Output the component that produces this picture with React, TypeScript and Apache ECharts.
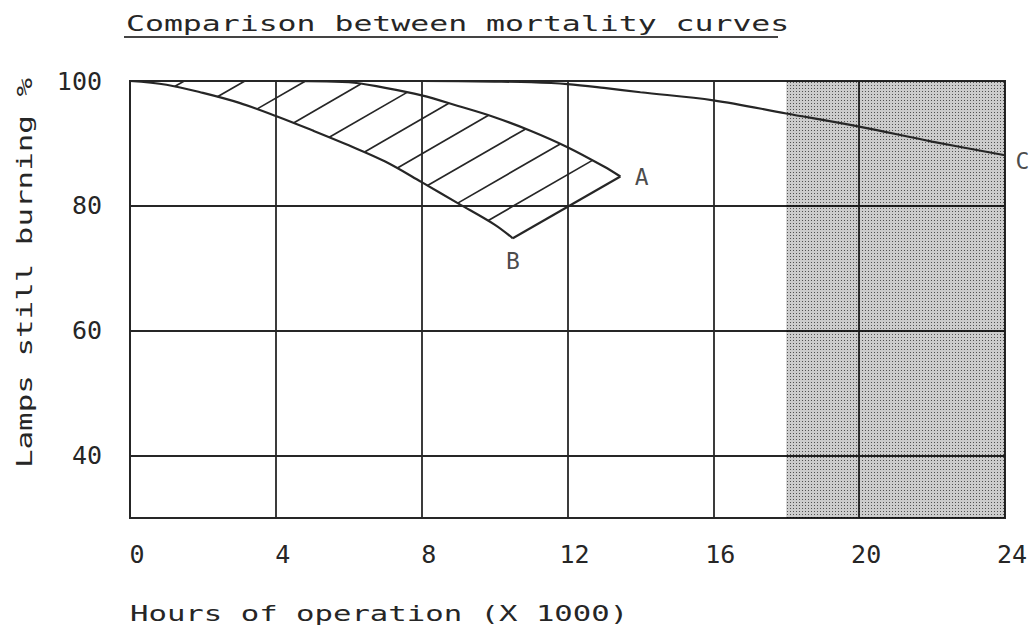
import React, { useEffect, useRef } from 'react';
import * as echarts from 'echarts';

// ---- data ----
const titleText = 'Comparison between mortality curves';
const xAxisTitle = 'Hours of operation (X 1000)';
const yAxisTitle = 'Lamps still burning %';

const hoursA = [0, 2, 4, 6, 7, 8, 9, 10, 11, 12, 13, 13.45];
const pctA = [100, 100, 100, 99.8, 98.9, 97.7, 96.0, 94.2, 92.0, 89.4, 86.3, 84.7];

const hoursB = [0, 1, 2, 3, 4, 5, 6, 7, 8, 9, 10, 10.5];
const pctB = [100, 99.4, 98.1, 96.5, 94.4, 92.1, 89.7, 87.1, 83.8, 80.4, 77.0, 74.8];

const hoursC = [0, 4, 8, 10, 11, 12, 13, 14, 16, 18, 20, 22, 24];
const pctC = [100, 100, 100, 99.9, 99.8, 99.5, 98.9, 98.2, 96.9, 94.8, 92.7, 90.3, 88.1];

const curveNames = ['A', 'B', 'C'];
const xRange = [0, 24];
const xStep = 4;
const yRange = [30, 100];
const yStep = 10;
const yLabelValues = [40, 60, 80, 100];
const shadedHours = [18, 24];

const FONT = 'DejaVu Sans Mono';
const INK = '#262626';

const pairs = (xs: number[], ys: number[]) => xs.map((x, i) => [x, ys[i]]);
const last = <T,>(a: T[]) => a[a.length - 1];

export default function App() {
  const ref = useRef<HTMLDivElement>(null);

  useEffect(() => {
    const chart = echarts.init(ref.current!, null, { renderer: 'svg' });

    // stipple texture for the shaded band
    const dots = document.createElement('canvas');
    dots.width = 3;
    dots.height = 3;
    const ctx = dots.getContext('2d')!;
    ctx.fillStyle = 'rgba(0,0,0,0.2)';
    ctx.fillRect(0, 0, 3, 3);
    ctx.fillStyle = 'rgba(0,0,0,0.6)';
    ctx.fillRect(1, 1, 1, 1);

    const ptsA = pairs(hoursA, pctA);
    const ptsB = pairs(hoursB, pctB);
    const ptsC = pairs(hoursC, pctC);

    const lineStyle = { color: INK, width: 2.2 };

    const hatchRender = (_params: any, api: any) => {
      const poly: number[][] = [
        ...ptsA.map((p) => api.coord(p)),
        ...ptsB.slice().reverse().map((p) => api.coord(p)),
      ];
      const t = Math.tan(Math.PI / 6);
      const bEnd = api.coord(last(ptsB));
      const cRef = bEnd[1] + t * bEnd[0] - 32;
      const spacing = 35;
      const cs = poly.map((p) => p[1] + t * p[0]);
      const cMin = Math.min(...cs);
      const children: any[] = [];
      for (let c = cRef; c > cMin; c -= spacing) {
        const hits: number[][] = [];
        for (let i = 0; i < poly.length; i++) {
          const p = poly[i];
          const q = poly[(i + 1) % poly.length];
          const fp = p[1] + t * p[0] - c;
          const fq = q[1] + t * q[0] - c;
          if (fp > 0 !== fq > 0) {
            const s = fp / (fp - fq);
            hits.push([p[0] + s * (q[0] - p[0]), p[1] + s * (q[1] - p[1])]);
          }
        }
        hits.sort((a, b) => a[0] - b[0]);
        for (let k = 0; k + 1 < hits.length; k += 2) {
          children.push({
            type: 'line',
            shape: { x1: hits[k][0], y1: hits[k][1], x2: hits[k + 1][0], y2: hits[k + 1][1] },
            style: { stroke: INK, lineWidth: 1.7 },
          });
        }
      }
      return { type: 'group', children };
    };

    const labelStyle = { fontFamily: FONT, fontSize: 23, color: '#1a1a1a' };

    chart.setOption({
      animation: false,
      backgroundColor: '#ffffff',
      grid: {
        left: 130,
        right: 30,
        top: 81,
        bottom: 112,
        show: true,
        borderColor: INK,
        borderWidth: 2,
        backgroundColor: 'transparent',
      },
      xAxis: {
        type: 'value',
        min: xRange[0],
        max: xRange[1],
        interval: xStep,
        axisLine: { show: false },
        axisTick: { show: false },
        axisLabel: { margin: 24, fontFamily: FONT, fontSize: 25, color: INK, padding: [0, 0, 0, 14] },
        splitLine: { show: true, lineStyle: { color: INK, width: 1.8 } },
      },
      yAxis: {
        type: 'value',
        min: yRange[0],
        max: yRange[1],
        interval: yStep,
        axisLine: { show: false },
        axisTick: { show: false },
        axisLabel: {
          margin: 28,
          fontFamily: FONT,
          fontSize: 25,
          color: INK,
          padding: [6, 0, 0, 0],
          formatter: (v: number) => (yLabelValues.includes(v) ? String(v) : ''),
        },
        splitLine: { show: true, lineStyle: { color: ['transparent', INK], width: 1.8 } },
      },
      graphic: [
        {
          type: 'text',
          x: 126,
          y: 24,
          scaleX: 1.5,
          style: {
            text: titleText,
            font: `21px "${FONT}"`,
            fill: INK,
            align: 'left',
            textAlign: 'left',
            verticalAlign: 'middle',
            textVerticalAlign: 'middle',
          },
        },
        {
          type: 'line',
          shape: { x1: 124, y1: 37, x2: 778, y2: 37 },
          style: { stroke: '#444', lineWidth: 2 },
        },
        {
          type: 'text',
          x: 130,
          y: 614,
          scaleX: 1.46,
          style: {
            text: xAxisTitle,
            font: `21px "${FONT}"`,
            fill: INK,
            align: 'left',
            textAlign: 'left',
            verticalAlign: 'middle',
            textVerticalAlign: 'middle',
          },
        },
        {
          type: 'text',
          x: 24,
          y: 273,
          rotation: Math.PI / 2,
          scaleX: 1.47,
          style: {
            text: yAxisTitle,
            font: `21px "${FONT}"`,
            fill: INK,
            align: 'center',
            textAlign: 'center',
            verticalAlign: 'middle',
            textVerticalAlign: 'middle',
          },
        },
      ],
      series: [
        {
          type: 'custom',
          name: 'hatch',
          coordinateSystem: 'cartesian2d',
          data: [ptsA[0]],
          renderItem: hatchRender,
          silent: true,
          z: 3,
        },
        {
          type: 'line',
          name: curveNames[2],
          data: ptsC,
          smooth: 0.35,
          symbol: 'none',
          lineStyle,
          z: 4,
          markArea: {
            silent: true,
            itemStyle: { color: { image: dots, repeat: 'repeat' } },
            data: [[{ xAxis: shadedHours[0] }, { xAxis: shadedHours[1] }]],
          },
        },
        {
          type: 'line',
          name: curveNames[0],
          data: ptsA,
          smooth: 0.35,
          symbol: 'none',
          lineStyle,
          z: 4,
        },
        {
          type: 'line',
          name: curveNames[1],
          data: ptsB,
          smooth: 0.35,
          symbol: 'none',
          lineStyle,
          z: 4,
        },
        {
          type: 'line',
          name: 'closing',
          data: [last(ptsA), last(ptsB)],
          symbol: 'none',
          lineStyle,
          z: 4,
        },
        {
          type: 'scatter',
          name: 'labels',
          symbol: 'circle',
          symbolSize: 1,
          silent: true,
          itemStyle: { color: 'rgba(0,0,0,0)' },
          label: labelStyle,
          z: 5,
          data: [
            { value: last(ptsA), label: { show: true, formatter: curveNames[0], position: 'right', distance: 14 } },
            { value: last(ptsB), label: { show: true, formatter: curveNames[1], position: 'bottom', distance: 11 } },
            { value: last(ptsC), label: { show: true, formatter: curveNames[2], position: 'right', distance: 10, offset: [0, 6] } },
          ],
        },
      ],
    });

    return () => chart.dispose();
  }, []);

  return (
    <div
      ref={ref}
      style={{ position: 'fixed', left: 0, top: 0, width: 1035, height: 630, background: '#fff' }}
    />
  );
}
